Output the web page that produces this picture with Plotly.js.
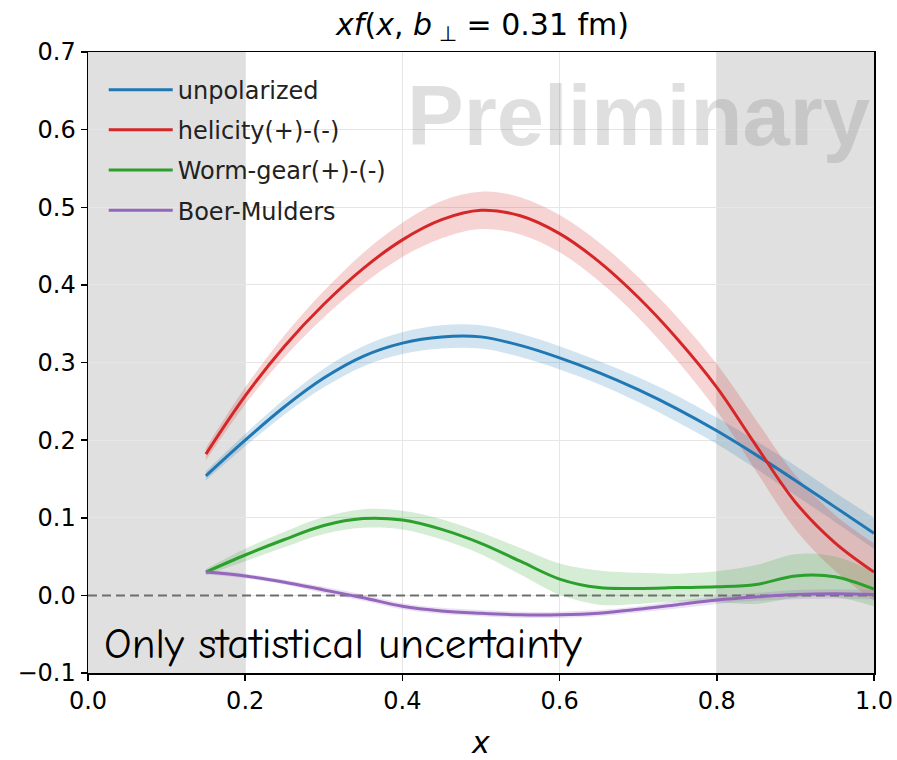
<!DOCTYPE html>
<html>
<head>
<meta charset="utf-8">
<script src="https://cdn.plot.ly/plotly-3.0.1.min.js"></script>
<style>html,body{margin:0;padding:0;background:#fff;}#chart{width:897px;height:760px;}</style>
</head>
<body>
<div id="chart"></div>
<script>
// ---- data ----
const xs = [0.15,0.2,0.25,0.3,0.35,0.4,0.45,0.5,0.55,0.6,0.65,0.7,0.75,0.8,0.85,0.9,0.95,1.0];
const unpolarized = [0.154,0.200,0.243,0.280,0.308,0.325,0.333,0.333,0.322,0.306,0.287,0.265,0.240,0.212,0.181,0.148,0.114,0.080];
const unpolarizedErr = [0.006,0.008,0.010,0.012,0.013,0.014,0.015,0.015,0.015,0.015,0.015,0.016,0.017,0.017,0.018,0.019,0.019,0.020];
const helicity = [0.182,0.257,0.321,0.375,0.421,0.458,0.484,0.496,0.489,0.466,0.430,0.384,0.330,0.268,0.193,0.120,0.068,0.030];
const helicityErr = [0.008,0.011,0.014,0.017,0.020,0.022,0.024,0.024,0.024,0.024,0.025,0.026,0.028,0.030,0.033,0.035,0.036,0.037];
const wormgear = [0.030,0.052,0.072,0.090,0.099,0.097,0.085,0.067,0.044,0.021,0.010,0.009,0.010,0.011,0.014,0.025,0.024,0.008];
const wormgearErr = [0.004,0.008,0.010,0.011,0.012,0.012,0.013,0.014,0.017,0.020,0.022,0.020,0.018,0.020,0.025,0.028,0.026,0.022];
const boerMulders = [0.030,0.025,0.017,0.007,-0.003,-0.014,-0.020,-0.023,-0.025,-0.025,-0.023,-0.018,-0.012,-0.006,-0.002,0.001,0.002,0.001];
const boerMuldersErr = [0.003,0.003,0.003,0.004,0.004,0.004,0.004,0.004,0.004,0.004,0.004,0.004,0.005,0.005,0.005,0.006,0.006,0.006];
const names = ['unpolarized','helicity(+)-(-)','Worm-gear(+)-(-)','Boer-Mulders'];
const xTicks = [0.0,0.2,0.4,0.6,0.8,1.0];
const yTicks = [-0.1,0.0,0.1,0.2,0.3,0.4,0.5,0.6,0.7];
const lowRegion = [0.0,0.2];
const highRegion = [0.8,1.0];
const zeroLevel = 0.0;

const series = [
  {name:names[0], y:unpolarized, e:unpolarizedErr, color:'#1f77b4', band:'rgba(31,119,180,0.2)'},
  {name:names[1], y:helicity, e:helicityErr, color:'#d62728', band:'rgba(214,39,40,0.2)'},
  {name:names[2], y:wormgear, e:wormgearErr, color:'#2ca02c', band:'rgba(44,160,44,0.2)'},
  {name:names[3], y:boerMulders, e:boerMuldersErr, color:'#9467bd', band:'rgba(148,103,189,0.2)'}
];

const traces = [];
series.forEach((s,i) => {
  traces.push({x:xs, y:s.y.map((v,k)=>v-s.e[k]), mode:'lines', line:{width:0, shape:'spline'}, showlegend:false, hoverinfo:'skip'});
  traces.push({x:xs, y:s.y.map((v,k)=>v+s.e[k]), mode:'lines', line:{width:0, shape:'spline'}, fill:'tonexty', fillcolor:s.band, showlegend:false, hoverinfo:'skip'});
});
// reference zero line spanning the x axis
traces.push({x:[xTicks[0], xTicks[xTicks.length-1]], y:[zeroLevel, zeroLevel], mode:'lines', line:{color:'#6e6e6e', width:2, dash:'9px,5px'}, showlegend:false, hoverinfo:'skip', cliponaxis:false});
series.forEach((s,i) => {
  traces.push({x:xs, y:s.y, mode:'lines', name:s.name, line:{color:s.color, width:3, shape:'spline'}, legendgroup:'g'+i});
});

const tickFont = {family:'DejaVu Sans, sans-serif', size:24, color:'#000'};
const layout = {
  width:897, height:760,
  margin:{l:88, r:23, t:52, b:87},
  paper_bgcolor:'#fff', plot_bgcolor:'#fff',
  title:{text:'<i>xf</i>(<i>x</i>, <i>b</i><sub> ⊥</sub> = 0.31 fm)', font:{family:'DejaVu Sans, sans-serif', size:30, color:'#000'}, x:0.538, xanchor:'center', y:0.968, yanchor:'middle'},
  xaxis:{range:[0,1], tickvals:xTicks, ticktext:xTicks.map(v=>v.toFixed(1)), showgrid:true, gridcolor:'#e6e6e6', gridwidth:1,
    showline:true, linecolor:'#000', linewidth:1.5, mirror:true, ticks:'outside', ticklen:6, tickwidth:1.5, tickcolor:'#000',
    tickfont:tickFont, zeroline:false, title:{text:'<i>x</i>', font:{family:'DejaVu Sans, sans-serif', size:30, color:'#000'}, standoff:22}},
  yaxis:{range:[-0.1,0.7], tickvals:yTicks, ticktext:yTicks.map(v=>v<0?'\u2212'+Math.abs(v).toFixed(1):v.toFixed(1)), showgrid:true, gridcolor:'#e6e6e6', gridwidth:1,
    showline:true, linecolor:'#000', linewidth:1.5, mirror:true, ticks:'outside', ticklen:6, tickwidth:1.5, tickcolor:'#000',
    tickfont:tickFont, zeroline:false},
  legend:{x:0.02, y:0.975, xanchor:'left', yanchor:'top', bgcolor:'rgba(0,0,0,0)', borderwidth:0, itemwidth:64,
    font:{family:'DejaVu Sans, sans-serif', size:24, color:'#222'}, traceorder:'grouped', tracegroupgap:6},
  shapes:[
    {type:'rect', xref:'x', yref:'paper', x0:lowRegion[0], x1:lowRegion[1], y0:0, y1:1, fillcolor:'rgba(0,0,0,0.12)', line:{width:0}, layer:'below'},
    {type:'rect', xref:'x', yref:'paper', x0:highRegion[0], x1:highRegion[1], y0:0, y1:1, fillcolor:'rgba(0,0,0,0.12)', line:{width:0}, layer:'below'}
  ],
  annotations:[
    {text:'<b>Preliminary</b>', xref:'x', yref:'y', x:0.700, y:0.618, xanchor:'center', yanchor:'middle', showarrow:false,
      font:{family:'Liberation Sans, Arial, sans-serif', size:85, color:'rgba(118,118,118,0.23)'}},
    {text:'Only statistical uncertainty', xref:'x', yref:'y', x:0.018, y:-0.062, xanchor:'left', yanchor:'middle', showarrow:false,
      font:{family:'Comic Sans MS, Comic Neue, Lato, sans-serif', size:43, color:'#000'}}
  ]
};
Plotly.newPlot('chart', traces, layout, {displayModeBar:false, staticPlot:true});
</script>
</body>
</html>
